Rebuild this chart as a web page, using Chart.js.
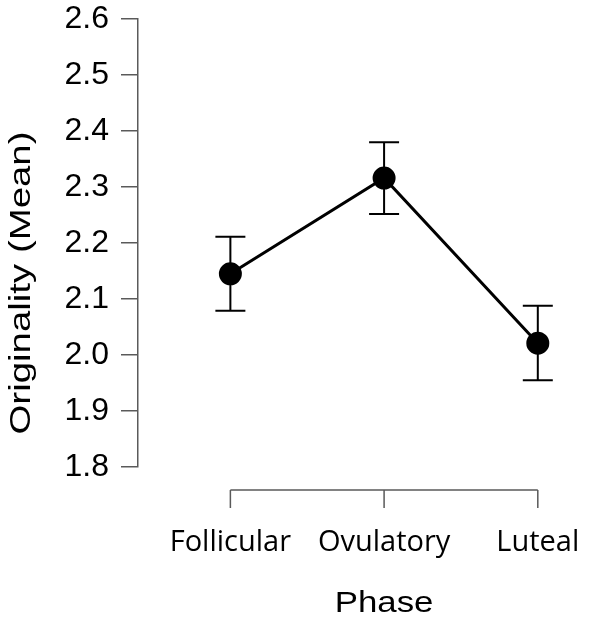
<!DOCTYPE html>
<html>
<head>
<meta charset="utf-8">
<script src="https://cdn.jsdelivr.net/npm/chart.js@4/dist/chart.umd.min.js"></script>
<style>
  html, body { margin: 0; padding: 0; background: #fff; }
  #wrap { width: 590px; height: 621px; }
</style>
</head>
<body>
<div id="wrap"><canvas id="chart"></canvas></div>
<script>
// values
const phases = ['Follicular', 'Ovulatory', 'Luteal'];
const means = [2.145, 2.316, 2.021];
const upper = [2.211, 2.380, 2.088];
const lower = [2.079, 2.252, 1.955];
const yMin = 1.8;
const yMax = 2.6;
const yStep = 0.1;

const axisColor = '#5a5a5a';

// error bars drawn through the y scale
const errorBars = {
    id: 'errorBars',
    beforeDatasetsDraw(chart) {
        const { ctx, scales: { x, y } } = chart;
        ctx.save();
        ctx.strokeStyle = '#000';
        ctx.lineWidth = 2;
        phases.forEach((p, i) => {
            const px = x.getPixelForValue(i + 1);
            const top = y.getPixelForValue(upper[i]);
            const bot = y.getPixelForValue(lower[i]);
            ctx.beginPath();
            ctx.moveTo(px, top); ctx.lineTo(px, bot);
            ctx.moveTo(px - 15, top); ctx.lineTo(px + 15, top);
            ctx.moveTo(px - 15, bot); ctx.lineTo(px + 15, bot);
            ctx.stroke();
        });
        ctx.restore();
    }
};

// detached x axis bracket + axis titles
const extras = {
    id: 'extras',
    afterDraw(chart) {
        const { ctx, chartArea, scales: { x } } = chart;
        const x0 = x.getPixelForValue(1);
        const x1 = x.getPixelForValue(phases.length);
        const yb = chartArea.bottom + 23;
        ctx.save();
        ctx.strokeStyle = axisColor;
        ctx.lineWidth = 1.5;
        ctx.beginPath();
        ctx.moveTo(x0, yb); ctx.lineTo(x1, yb);
        phases.forEach((p, i) => {
            const px = x.getPixelForValue(i + 1);
            ctx.moveTo(px, yb); ctx.lineTo(px, yb + 18);
        });
        ctx.stroke();

        ctx.fillStyle = '#000';
        ctx.textAlign = 'center';
        ctx.textBaseline = 'alphabetic';

        // x title, centred under the bracket
        ctx.save();
        ctx.translate((x0 + x1) / 2, 612);
        ctx.scale(1.2, 1);
        ctx.font = '29px "Liberation Sans", Arial, sans-serif';
        ctx.fillText('Phase', 0, 0);
        ctx.restore();

        // y title, slightly stretched like the original
        ctx.translate(30, 283);
        ctx.rotate(-Math.PI / 2);
        ctx.scale(1.28, 1);
        ctx.font = '30px "Liberation Sans", Arial, sans-serif';
        ctx.fillText('Originality (Mean)', 0, 0);
        ctx.restore();
    }
};

new Chart(document.getElementById('chart'), {
    type: 'line',
    data: {
        datasets: [{
            data: means.map((m, i) => ({ x: i + 1, y: m })),
            borderColor: '#000',
            borderWidth: 3,
            pointRadius: 10,
            pointBackgroundColor: '#000',
            pointBorderColor: '#000',
            tension: 0
        }]
    },
    options: {
        responsive: true,
        maintainAspectRatio: false,
        animation: false,
        events: [],
        layout: { padding: { top: 19, right: 5, left: 0, bottom: 0 } },
        plugins: {
            legend: { display: false },
            tooltip: { enabled: false }
        },
        scales: {
            x: {
                type: 'linear',
                min: 0.399,
                max: 3.255,
                afterBuildTicks: scale => {
                    scale.ticks = phases.map((p, i) => ({ value: i + 1 }));
                },
                afterFit: scale => {
                    scale.height = 154;
                    scale.paddingLeft = 0;
                    scale.paddingRight = 0;
                },
                grid: { display: false },
                border: { display: false },
                ticks: {
                    autoSkip: false,
                    maxRotation: 0,
                    padding: 50,
                    color: '#000',
                    font: { family: '"Open Sans", sans-serif', size: 29 },
                    callback: v => phases[v - 1]
                }
            },
            y: {
                min: yMin,
                max: yMax,
                afterFit: scale => {
                    scale.width = 138;
                    scale.paddingTop = 0;
                    scale.paddingBottom = 0;
                },
                border: { display: true, color: axisColor, width: 1.5 },
                grid: {
                    drawOnChartArea: false,
                    drawTicks: true,
                    tickLength: 17,
                    color: axisColor,
                    lineWidth: 1.5
                },
                ticks: {
                    stepSize: yStep,
                    padding: 12,
                    color: '#000',
                    font: { family: '"Liberation Sans", Arial, sans-serif', size: 32 },
                    callback: v => v.toFixed(1)
                }
            }
        }
    },
    plugins: [errorBars, extras]
});
</script>
</body>
</html>
